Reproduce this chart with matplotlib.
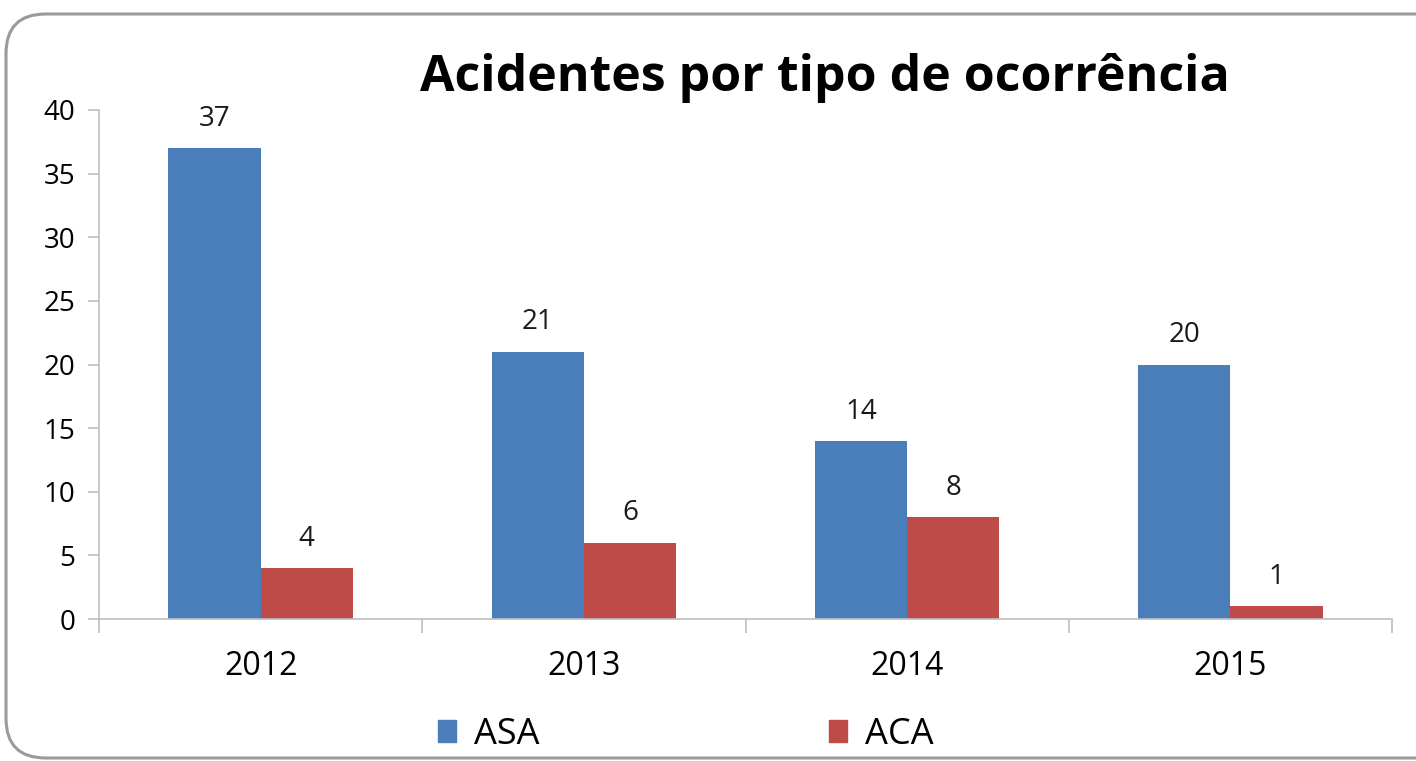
#!/usr/bin/env python3
"""Acidentes por tipo de ocorrência - grouped bar chart."""
import matplotlib
matplotlib.use("Agg")
import matplotlib.pyplot as plt
from matplotlib.patches import FancyBboxPatch, Patch
import numpy as np

anos = ["2012", "2013", "2014", "2015"]
asa = [37, 21, 14, 20]
aca = [4, 6, 8, 1]

BLUE = "#4A7EBB"
RED = "#BE4B48"
AXIS = "#BFBFBF"

plt.rcParams["font.family"] = ["Open Sans", "DejaVu Sans"]

fig = plt.figure(figsize=(14.16, 7.61), dpi=100)
ax = fig.add_axes([99 / 1416, 1 - 619 / 761, (1392 - 99) / 1416, (619 - 110) / 761])

# rounded chart border
border = FancyBboxPatch((6 / 1416, 3 / 761), 1.05, 1 - 14 / 761 - 3 / 761,
                        boxstyle="round,pad=0,rounding_size=0.028",
                        transform=fig.transFigure, facecolor="none",
                        edgecolor="#9A9A9A", linewidth=2.2, clip_on=False,
                        mutation_aspect=1416 / 761)
fig.patches.append(border)

x = np.arange(len(anos))
w = 0.285
b1 = ax.bar(x - w / 2, asa, w, color=BLUE)
b2 = ax.bar(x + w / 2, aca, w, color=RED)
ax.bar_label(b1, padding=11, fontsize=20, color="#1a1a1a")
ax.bar_label(b2, padding=11, fontsize=20, color="#1a1a1a")

ax.set_xlim(-0.5, len(anos) - 0.5)
ax.set_ylim(0, 40)
ax.set_yticks(range(0, 41, 5))
ax.tick_params(axis="y", labelsize=20, length=8, color=AXIS, width=1.2, pad=9)

# category ticks on the boundaries, labels centred
ax.set_xticks(np.arange(-0.5, len(anos), 1.0))
ax.set_xticklabels([])
ax.set_xticks(x, minor=True)
ax.set_xticklabels(anos, minor=True)
ax.tick_params(axis="x", which="major", length=10, color=AXIS, width=1.2)
ax.tick_params(axis="x", which="minor", length=0, labelsize=23, pad=22)

for s in ["top", "right"]:
    ax.spines[s].set_visible(False)
for s in ["left", "bottom"]:
    ax.spines[s].set_color(AXIS)
    ax.spines[s].set_linewidth(1.2)

fig.text(825 / 1416, 1 - 78 / 761, "Acidentes por tipo de ocorrência",
         ha="center", va="center", fontsize=36, fontweight="bold")

handles = [Patch(color=BLUE, label="ASA"), Patch(color=RED, label="ACA")]
fig.legend(handles=handles, loc="center", bbox_to_anchor=(686 / 1416, 1 - 735 / 761),
           ncol=2, frameon=False, fontsize=26, handlelength=0.5, handleheight=0.55,
           handletextpad=0.5, columnspacing=8.0)

fig.savefig("out.png", dpi=100)
